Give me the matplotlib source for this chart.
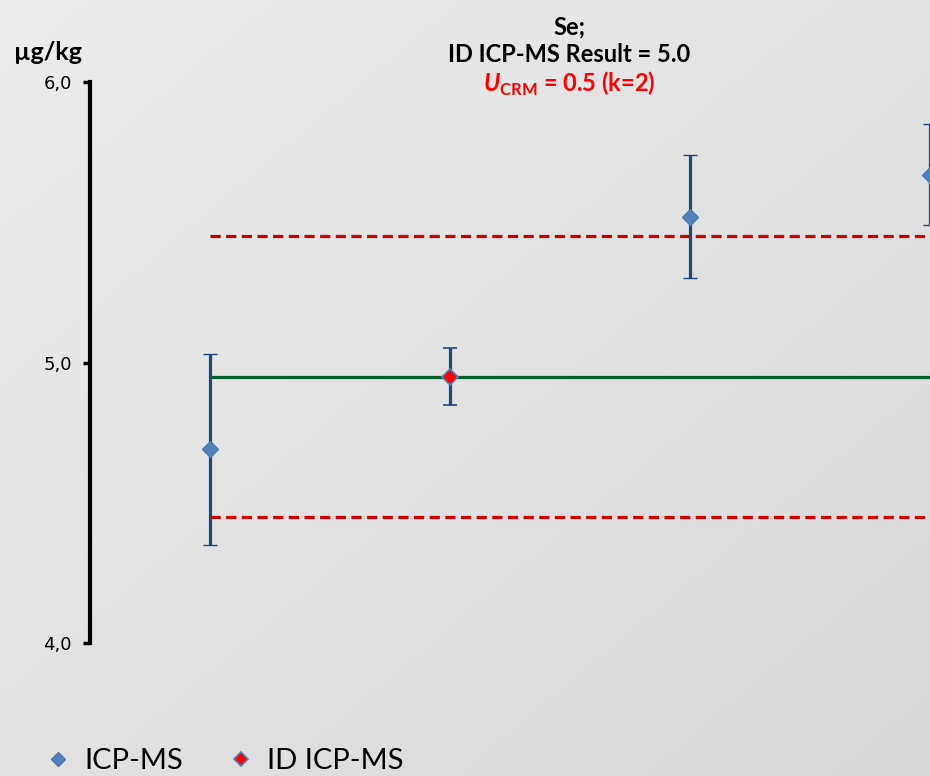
import numpy as np
import matplotlib.pyplot as plt
from matplotlib.ticker import FuncFormatter

# data
lab_x = [1, 3, 4]
lab_values = [4.69, 5.52, 5.67]
lab_errors = [0.34, 0.22, 0.18]
ref_x = [2]
ref_values = [4.95]
ref_errors = [0.10]
ref_result = 4.95
u_crm = 0.5
y_ticks = [4.0, 5.0, 6.0]

plt.rcParams['mathtext.fontset'] = 'custom'
plt.rcParams['mathtext.rm'] = 'Lato'
plt.rcParams['mathtext.bf'] = 'Lato:bold'
plt.rcParams['mathtext.bfit'] = 'Lato:italic:bold'

fig = plt.figure(figsize=(9.3, 7.76), dpi=100)

# light grey gradient background, lighter top-left
bg = fig.add_axes([0, 0, 1, 1], zorder=-10)
gx, gy = np.meshgrid(np.linspace(0, 1, 200), np.linspace(0, 1, 200))
t = 0.5 * gx + 0.5 * gy
shade = (236 - 20 * t) / 255
img = np.dstack([shade, shade, shade])
bg.imshow(img, aspect='auto', extent=[0, 1, 0, 1])
bg.axis('off')

ax = fig.add_axes([90 / 930, 133 / 776, 960 / 930, 561 / 776])
ax.patch.set_alpha(0)
ax.set_xlim(0.5, 4.5)
ax.set_ylim(4.0, 6.0)

ax.hlines(ref_result, 1, 4.5, color='#00602b', linewidth=2.3, zorder=2)
for lim in (ref_result + u_crm, ref_result - u_crm):
    ax.hlines(lim, 1, 4.5, color='#d00000', linewidth=2.3, linestyles=(0, (3.2, 1.7)), zorder=2)

ax.errorbar(lab_x, lab_values, yerr=lab_errors, fmt='D', color='#4f81bd', ms=8.5, mec='#4a78b0', mew=1,
            ecolor='#1f497d', elinewidth=2.3, capsize=5, capthick=2.3, label='ICP-MS', zorder=3)
ax.errorbar(ref_x, ref_values, yerr=ref_errors, fmt='D', color='#ff0000', ms=8.5, mec='#4f81bd', mew=1.2,
            ecolor='#1f497d', elinewidth=2.3, capsize=5, capthick=2.3, label='ID ICP-MS', zorder=3)

for s in ['top', 'right', 'bottom']:
    ax.spines[s].set_visible(False)
ax.spines['left'].set_linewidth(3)
ax.spines['left'].set_color('black')
ax.set_xticks([])
ax.set_yticks(y_ticks)
ax.yaxis.set_major_formatter(FuncFormatter(lambda v, p: f'{v:.1f}'.replace('.', ',')))
ax.tick_params(axis='y', direction='out', length=5, width=2.5, pad=8, labelsize=13, colors='black')
for lbl in ax.get_yticklabels():
    lbl.set_family('DejaVu Sans')

fig.text(48 / 930, 1 - 52 / 776, 'µg/kg', ha='center', va='center', fontsize=18,
         fontweight='bold', family='Lato')

cx = 569 / 930
fig.text(cx, 1 - 27 / 776, 'Se;', ha='center', va='center', fontsize=17, fontweight='bold', family='Lato')
fig.text(cx, 1 - 55 / 776, 'ID ICP-MS Result = 5.0', ha='center', va='center', fontsize=17,
         fontweight='bold', family='Lato')
fig.text(cx, 1 - 84 / 776, r'$\mathbfit{U}_{\mathbf{CRM}}$ = 0.5 (k=2)', ha='center', va='center',
         fontsize=17, fontweight='bold', family='Lato', color='#ff0000')

h, l = ax.get_legend_handles_labels()
h = [hh[0] for hh in h]
leg = fig.legend(h, l, loc='lower left', bbox_to_anchor=(46 / 930, 2 / 776), ncol=2, frameon=False,
                 prop={'family': 'Lato', 'size': 21}, handlelength=0.8, handletextpad=0.5,
                 columnspacing=1.6, borderpad=0, borderaxespad=0, markerscale=0.85)

fig.savefig('out.png', dpi=100)
